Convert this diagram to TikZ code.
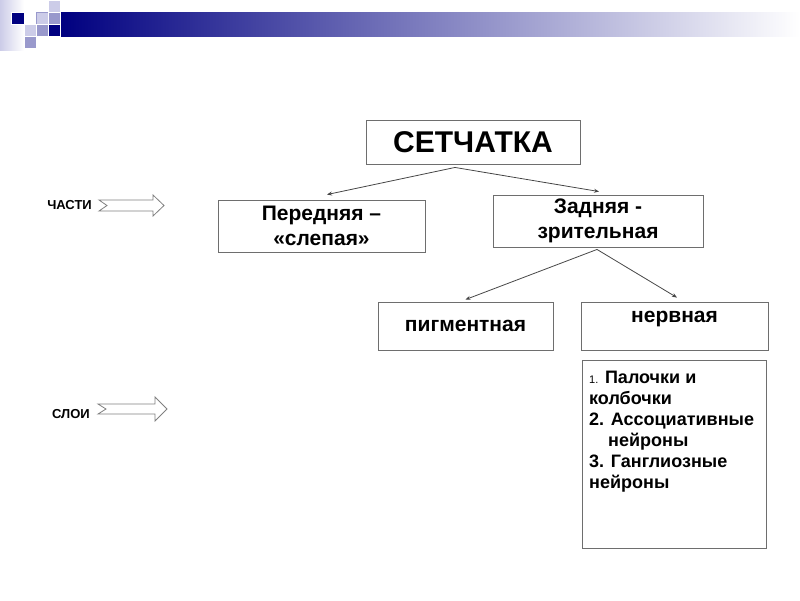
\documentclass[tikz,border=0pt]{standalone}
\usepackage{fontspec}
\setmainfont{Liberation Sans}
\usetikzlibrary{arrows.meta}
\definecolor{navy}{RGB}{0,0,128}
\definecolor{medlav}{RGB}{153,153,204}
\definecolor{ltlav}{RGB}{204,204,232}
\definecolor{boxgray}{RGB}{110,110,110}
\definecolor{linegray}{RGB}{70,70,70}
\begin{document}
\begin{tikzpicture}[x=1pt,y=-1pt,
  box/.style={draw=boxgray, line width=0.9pt, inner sep=0pt, align=center,
    font=\bfseries\fontsize{21}{25}\selectfont},
  conn/.style={draw=linegray, line width=0.8pt, -{Stealth[length=5pt,width=4pt]}},
  blockarrow/.style={draw=gray, line width=0.8pt, fill=white, line join=miter},
  side/.style={font=\bfseries\fontsize{13}{15}\selectfont, inner sep=0pt},
  sq/.style={draw=white, line width=0.4pt}]
\useasboundingbox (0,0) rectangle (800,600);
% header decoration
\shade[left color=ltlav, right color=white] (0,0) rectangle (24,50);
\shade[left color=navy, right color=white] (60,12) rectangle (800,36);
\fill[sq, fill=ltlav] (48,0) rectangle (60,12);
\fill[sq, fill=navy] (11,12) rectangle (24,24);
\filldraw[draw=medlav, fill=ltlav, line width=0.4pt] (36,12) rectangle (48,24);
\fill[sq, fill=medlav] (48,12) rectangle (60,24);
\fill[sq, fill=ltlav] (24,24) rectangle (36,36);
\fill[sq, fill=medlav] (36,24) rectangle (48,36);
\fill[sq, fill=navy] (48,24) rectangle (60,36);
\fill[sq, fill=medlav] (24,36) rectangle (36,48);
% boxes
\node[box, minimum width=214pt, minimum height=44pt, font=\bfseries\fontsize{30}{34}\selectfont] (set) at (473,142) {СЕТЧАТКА};
\node[box, minimum width=207pt, minimum height=52pt] (pered) at (321.5,226) {Передняя –\\«слепая»};
\node[box, minimum width=210pt, minimum height=52pt] (zad) at (598,221) {Задняя -\\зрительная};
\node[box, minimum width=175pt, minimum height=48pt] (pig) at (465.5,326) {пигментная};
\node[box, minimum width=187pt, minimum height=48pt,
  label={[anchor=north, yshift=-9pt, font=\bfseries\fontsize{21}{25}\selectfont, inner sep=0pt]north:нервная}] (nerv) at (674.5,326) {};
\node[box, minimum width=184pt, minimum height=188pt] (list) at (674,454) {};
\node[anchor=base west, inner sep=0pt, align=left,
  font=\bfseries\fontsize{18}{21}\selectfont] (listtext) at (589,488)
  {{\mdseries\fontsize{11}{21}\selectfont 1.} Палочки и\\колбочки\\2. Ассоциативные\\\hspace*{19pt}нейроны\\3. Ганглиозные\\нейроны};
% connectors
\coordinate (apex1) at ([xshift=-18pt,yshift=-3pt]set.south);
\coordinate (apex2) at ([xshift=-1pt,yshift=-2pt]zad.south);
\draw[conn] (apex1) -- ([xshift=5.5pt,yshift=5pt]pered.north);
\draw[conn] (apex1) -- ([xshift=1pt,yshift=3pt]zad.north);
\draw[conn] (apex2) -- ([yshift=2pt]pig.north);
\draw[conn] (apex2) -- ([xshift=2.5pt,yshift=4pt]nerv.north);
% side labels and block arrows
\node[side, anchor=east] (chasti) at (92,205) {ЧАСТИ};
\node[side, anchor=east] (sloi) at (90,414) {СЛОИ};
\draw[blockarrow] (99,200) -- (153,200) -- (153,195) -- (164,205.5) -- (153,216) -- (153,211) -- (99,211) -- (107,205.5) -- cycle;
\draw[blockarrow] (98,404) -- (155,404) -- (155,397) -- (167,409) -- (155,421) -- (155,414) -- (98,414) -- (106,409) -- cycle;
\end{tikzpicture}
\end{document}
